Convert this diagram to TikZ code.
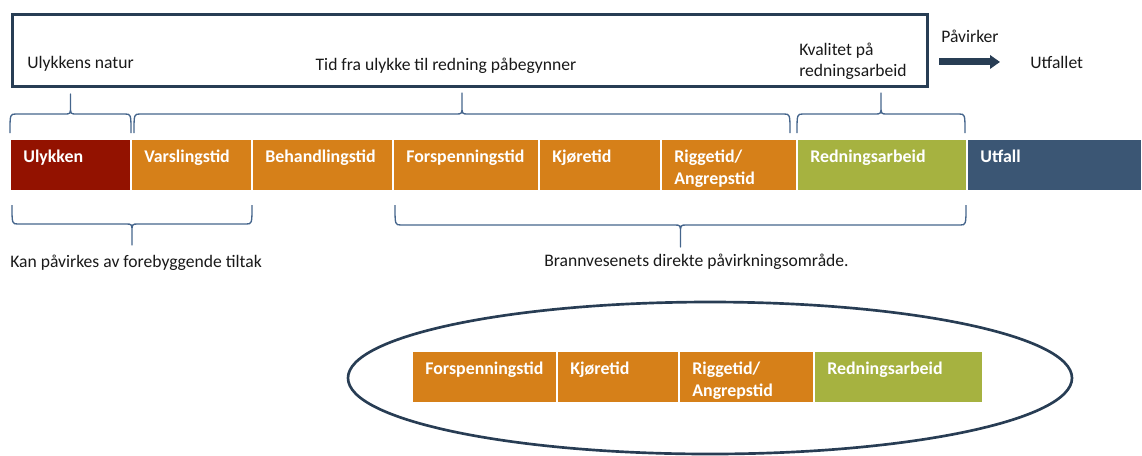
\documentclass[tikz,border=0pt]{standalone}
\usepackage{fontspec}
\setmainfont{Carlito}
\usetikzlibrary{positioning,arrows.meta,shapes.geometric}
\definecolor{ulykke-red}{HTML}{931200}
\definecolor{tid-orange}{HTML}{D68019}
\definecolor{redning-green}{HTML}{A6B240}
\definecolor{utfall-blue}{HTML}{3B5674}
\definecolor{frame-blue}{HTML}{283D54}
\definecolor{brace-blue}{HTML}{45658C}
\tikzset{
    stage-box/.style = {draw=white, line width=0.8pt, rectangle, minimum height=39pt, inner sep=0pt, outer sep=0pt, anchor=west},
    stage-text/.style = {text=white, font=\fontsize{13.4pt}{16pt}\selectfont\bfseries, anchor=north west, align=left, inner xsep=10pt, inner ysep=8.5pt, outer sep=0pt},
    plain-text/.style = {text=black!90, inner sep=0pt, align=left},
    frame-box/.style = {draw=frame-blue, line width=2.25pt, rectangle, inner sep=0pt, outer sep=0pt},
    scope-ellipse/.style = {draw=frame-blue, line width=2pt, ellipse, inner sep=0pt},
    brace-line/.style = {draw=brace-blue, line width=1pt, line join=round},
    effect-arrow/.style = {draw=frame-blue, line width=5.25pt, -{Triangle[length=7.5pt, width=10pt]}},
}
% curly brace: x1, x2, y of ends, y of bar, y of tip
\newcommand{\drawbrace}[5]{%
    \pgfmathsetmacro{\bracemid}{(#1+#2)/2}
    \pgfmathsetmacro{\bracestem}{#4+0.4*(#5-#4)}
    \draw[brace-line] (#1,#3) .. controls (#1,#4) and (#1,#4) .. (#1+6,#4) -- (\bracemid-6,#4)
        .. controls (\bracemid,#4) and (\bracemid,#4) .. (\bracemid,\bracestem) -- (\bracemid,#5)
        -- (\bracemid,\bracestem) .. controls (\bracemid,#4) and (\bracemid,#4) .. (\bracemid+6,#4)
        -- (#2-6,#4) .. controls (#2,#4) and (#2,#4) .. (#2,#3);
}

\begin{document}
\begin{tikzpicture}[x=0.75pt, y=-0.75pt, font=\fontsize{13.2pt}{16pt}\selectfont]
\useasboundingbox (0,0) rectangle (1142,455);

% top frame with what the phases depend on
\node[frame-box, minimum width=686.25pt, minimum height=54pt, anchor=north west] (frame) at (12,14) {};
\node[plain-text, anchor=base west] (natur) at (27,68) {Ulykkens natur};
\node[plain-text, anchor=base] (tid) at (446,70) {Tid fra ulykke til redning påbegynner};
\node[plain-text, anchor=west] (kvalitet) at (799,61) {Kvalitet på\\redningsarbeid};
\node[plain-text, anchor=base west] (paavirker) at (941,42) {Påvirker};
\node[plain-text, anchor=base west] (utfallet) at (1030,68) {Utfallet};
\draw[effect-arrow] (frame.east |- utfallet.west) ++(12,0) -- ([xshift=-22.5pt]utfallet.west);

% the chain of phases
\node[stage-box, fill=ulykke-red, minimum width=90.75pt, label={[stage-text]north west:Ulykken}] (ulykken) at (10,165) {};
\node[stage-box, fill=tid-orange, minimum width=90.75pt, right=0pt of ulykken, label={[stage-text]north west:Varslingstid}] (varsling) {};
\node[stage-box, fill=tid-orange, minimum width=105.75pt, right=0pt of varsling, label={[stage-text]north west:Behandlingstid}] (behandling) {};
\node[stage-box, fill=tid-orange, minimum width=109.5pt, right=0pt of behandling, label={[stage-text]north west:Forspenningstid}] (forspenning) {};
\node[stage-box, fill=tid-orange, minimum width=91.5pt, right=0pt of forspenning, label={[stage-text]north west:Kjøretid}] (kjoring) {};
\node[stage-box, fill=tid-orange, minimum width=102pt, right=0pt of kjoring, label={[stage-text]north west:{Riggetid/\\Angrepstid}}] (rigging) {};
\node[stage-box, fill=redning-green, minimum width=127.5pt, right=0pt of rigging, label={[stage-text]north west:Redningsarbeid}] (redning) {};
\node[stage-box, fill=utfall-blue, minimum width=131.25pt, right=0pt of redning, label={[stage-text]north west:Utfall}] (utfall) {};

% braces
\drawbrace{10}{131}{133}{114}{94}
\drawbrace{134}{790}{133}{114}{93}
\drawbrace{797}{965}{133}{114}{93}
\drawbrace{12}{252}{205}{224}{245}
\drawbrace{395}{966}{205}{225}{247}

\node[plain-text, anchor=base west] (forebygging) at (10,267) {Kan påvirkes av forebyggende tiltak};
\node[plain-text, anchor=base west] (brannvesen) at (544,266) {Brannvesenets direkte påvirkningsområde.};

% the part the fire service controls
\node[scope-ellipse, minimum width=543pt, minimum height=114pt] (omraade) at (710,378) {};
\node[stage-box, fill=tid-orange, minimum width=108.75pt, label={[stage-text]north west:Forspenningstid}] (forspenning-b) at (412,377) {};
\node[stage-box, fill=tid-orange, minimum width=91.5pt, right=0pt of forspenning-b, label={[stage-text]north west:Kjøretid}] (kjoring-b) {};
\node[stage-box, fill=tid-orange, minimum width=101.25pt, right=0pt of kjoring-b, label={[stage-text]north west:{Riggetid/\\Angrepstid}}] (rigging-b) {};
\node[stage-box, fill=redning-green, minimum width=126.75pt, right=0pt of rigging-b, label={[stage-text]north west:Redningsarbeid}] (redning-b) {};
\end{tikzpicture}
\end{document}
